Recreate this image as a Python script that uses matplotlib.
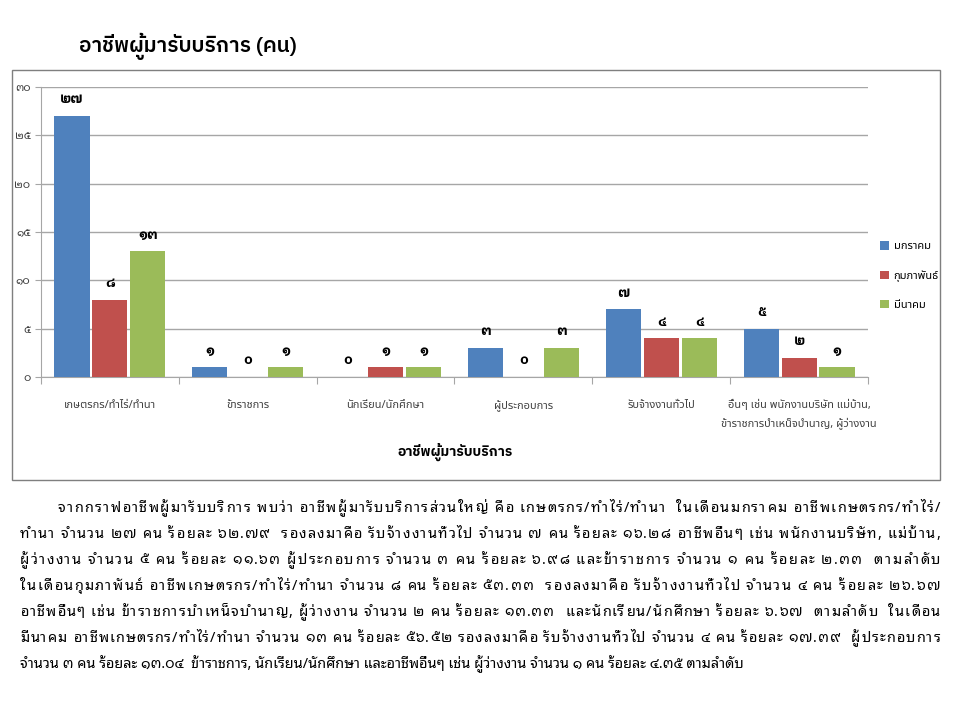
import matplotlib
matplotlib.use("Agg")
import matplotlib.pyplot as plt
import numpy as np
from matplotlib import font_manager
from matplotlib.patches import Rectangle

# Data
categories = [
    "เกษตรกร/ทำไร่/ทำนา",
    "ข้าราชการ",
    "นักเรียน/นักศึกษา",
    "ผู้ประกอบการ",
    "รับจ้างงานทั่วไป",
    "อื่นๆ เช่น พนักงานบริษัท แม่บ้าน,\nข้าราชการบำเหน็จบำนาญ, ผู้ว่างงาน",
]
months = ["มกราคม", "กุมภาพันธ์", "มีนาคม"]
jan = [27, 1, 0, 3, 7, 5]
feb = [8, 0, 1, 0, 4, 2]
mar = [13, 1, 1, 3, 4, 1]
yticks = [0, 5, 10, 15, 20, 25, 30]

title = "อาชีพผู้มารับบริการ (คน)"
xlabel = "อาชีพผู้มารับบริการ"

paragraph = [
    "จากกราฟอาชีพผู้มารับบริการ พบว่า อาชีพผู้มารับบริการส่วนใหญ่ คือ เกษตรกร/ทำไร่/ทำนา  ในเดือนมกราคม อาชีพเกษตรกร/ทำไร่/",
    "ทำนา จำนวน ๒๗ คน ร้อยละ ๖๒.๗๙  รองลงมาคือ รับจ้างงานทั่วไป จำนวน ๗ คน ร้อยละ ๑๖.๒๘ อาชีพอื่นๆ เช่น พนักงานบริษัท, แม่บ้าน,",
    "ผู้ว่างงาน จำนวน ๕ คน ร้อยละ ๑๑.๖๓ ผู้ประกอบการ จำนวน ๓ คน ร้อยละ ๖.๙๘ และข้าราชการ จำนวน ๑ คน ร้อยละ ๒.๓๓  ตามลำดับ",
    "ในเดือนกุมภาพันธ์ อาชีพเกษตรกร/ทำไร่/ทำนา จำนวน ๘ คน ร้อยละ ๕๓.๓๓  รองลงมาคือ รับจ้างงานทั่วไป จำนวน ๔ คน ร้อยละ ๒๖.๖๗",
    "อาชีพอื่นๆ เช่น ข้าราชการบำเหน็จบำนาญ, ผู้ว่างงาน จำนวน ๒ คน ร้อยละ ๑๓.๓๓  และนักเรียน/นักศึกษา ร้อยละ ๖.๖๗  ตามลำดับ  ในเดือน",
    "มีนาคม อาชีพเกษตรกร/ทำไร่/ทำนา จำนวน ๑๓ คน ร้อยละ ๕๖.๕๒ รองลงมาคือ รับจ้างงานทั่วไป จำนวน ๔ คน ร้อยละ ๑๗.๓๙  ผู้ประกอบการ",
    "จำนวน ๓ คน ร้อยละ ๑๓.๐๔  ข้าราชการ, นักเรียน/นักศึกษา และอาชีพอื่นๆ เช่น ผู้ว่างงาน จำนวน ๑ คน ร้อยละ ๔.๓๕ ตามลำดับ",
]

colors = ["#4F81BD", "#C0504D", "#9BBB59"]


def thai_digits(n):
    return str(n).translate(str.maketrans("0123456789", "๐๑๒๓๔๕๖๗๘๙"))


def pick(*names, bold=False):
    for n in names:
        for f in font_manager.fontManager.ttflist:
            if f.name != n:
                continue
            wt = f.weight if isinstance(f.weight, int) else 400
            if not bold or wt >= 600:
                return [n, 'DejaVu Sans']
    return ['DejaVu Sans']


sans = pick("Noto Sans Thai", "Noto Sans Thai UI", "Sarabun")
looped = pick("Noto Sans Thai Looped", "Noto Sans Thai", "Sarabun")
sans_bold = pick("Noto Sans Thai", "IBM Plex Sans Thai", "Noto Sans Thai UI",
                 "Sarabun", bold=True)
looped_bold = pick("Noto Sans Thai Looped", "IBM Plex Sans Thai Looped",
                   "Sarabun", bold=True)
plt.rcParams['font.family'] = sans

fig = plt.figure(figsize=(9.6, 7.2), dpi=100)
W, H = 960, 720

# chart frame
fig.patches.append(Rectangle((12 / W, 1 - 480 / H), 928 / W, 410 / H,
                             transform=fig.transFigure, fill=False,
                             edgecolor="#7F7F7F", linewidth=1.0))

ax = fig.add_axes([41 / W, 1 - 377 / H, 827 / W, 290 / H])
x = np.arange(len(categories))
w = 0.255
off = 0.275
for i, (vals, c) in enumerate(zip([jan, feb, mar], colors)):
    bars = ax.bar(x + (i - 1) * off, vals, w, color=c, label=months[i], zorder=3)
    for b, v in zip(bars, vals):
        ax.annotate(thai_digits(v), (b.get_x() + b.get_width() / 2, v),
                    xytext=(0, 12), textcoords="offset points",
                    ha="center", va="center", fontsize=10, fontweight="bold",
                    family=looped_bold)

ax.set_xlim(-0.5, len(categories) - 0.5)
ax.set_ylim(0, 30)
ax.set_yticks(yticks)
ax.set_yticklabels([thai_digits(t) for t in yticks], fontsize=8,
                   color="#404040", family=looped)
ax.yaxis.grid(True, color="#A6A6A6", linewidth=1.0, zorder=0)
ax.set_xticks(np.arange(-0.5, len(categories), 1.0))
ax.set_xticklabels([])
ax.tick_params(axis="x", length=5, color="#A6A6A6")
ax.tick_params(axis="y", length=4, color="#A6A6A6")
for i, cat in enumerate(categories):
    ax.text(i, -2.4, cat, ha="center", va="top", fontsize=8,
            color="#404040", linespacing=1.6)
for s in ["top", "right"]:
    ax.spines[s].set_visible(False)
for s in ["left", "bottom"]:
    ax.spines[s].set_color("#A6A6A6")

fig.text(455 / W, 1 - 452 / H, xlabel, ha="center", va="center",
         fontsize=10, fontweight="bold", family=sans_bold)

ax.legend(loc="center left", bbox_to_anchor=(1.015, (377 - 276) / 290),
          frameon=False, fontsize=8, handlelength=0.8, handleheight=0.8,
          labelspacing=1.6, handletextpad=0.4, borderpad=0, borderaxespad=0)

fig.text(79 / W, 1 - 46 / H, title, ha="left", va="center", fontsize=15,
         fontweight="semibold", family=sans_bold)

# paragraph below the chart, Thai-distributed justification:
# extra space is spread between every character cluster
fig.canvas.draw()
renderer = fig.canvas.get_renderer()
left_px, right_px = 20, 940
y0, dy = 508, 26
fs = 10.4
marks = set(chr(c) for c in [0x0E31] + list(range(0x0E34, 0x0E3B))
            + list(range(0x0E47, 0x0E4F)))

width_cache = {}


def text_width(s):
    if s not in width_cache:
        t = fig.text(0, 0, s, fontsize=fs, family=looped)
        width_cache[s] = t.get_window_extent(renderer).width
        t.remove()
    return width_cache[s]


def pen_pos(prefix):
    # pen position after the prefix, measured with a sentinel glyph
    if not prefix:
        return 0.0
    return text_width(prefix + "ก") - text_width("ก")


for li, line in enumerate(paragraph):
    y = 1 - (y0 + li * dy) / H
    start = 58 if li == 0 else left_px
    if li == len(paragraph) - 1:
        fig.text(start / W, y, line, ha="left", va="center", fontsize=fs,
                 family=looped)
        continue
    # clusters: (index in line, text); spaces count as boundaries too
    items = []
    for k, ch in enumerate(line):
        if ch in marks and items and items[-1][1] != " ":
            items[-1] = (items[-1][0], items[-1][1] + ch)
        else:
            items.append((k, ch))
    natural = text_width(line)
    extra = (right_px - start - natural) / max(len(items) - 1, 1)
    for n, (k, s) in enumerate(items):
        if s == " ":
            continue
        xp = start + pen_pos(line[:k]) + n * extra
        fig.text(xp / W, y, s, ha="left", va="center", fontsize=fs,
                 family=looped)

fig.savefig("out.png", dpi=100)
